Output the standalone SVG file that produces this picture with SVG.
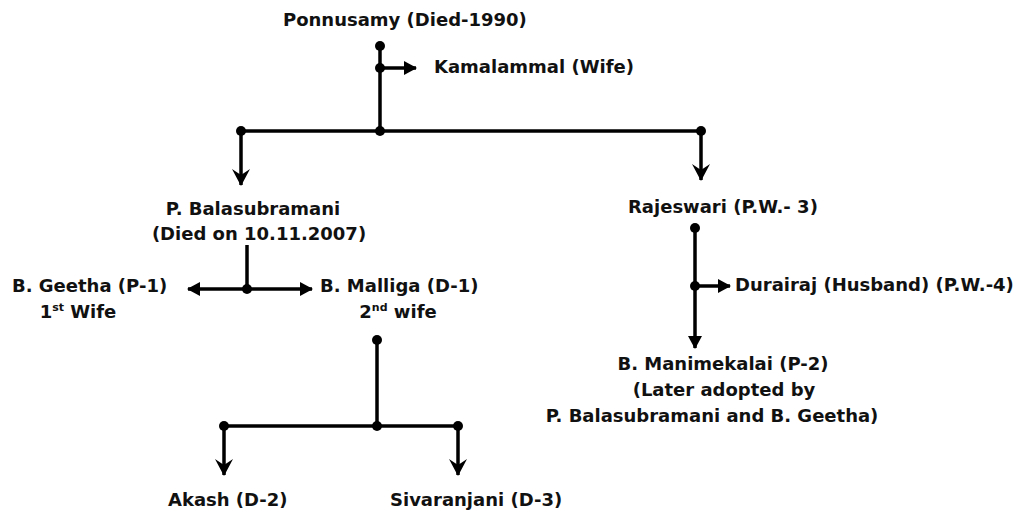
<svg xmlns="http://www.w3.org/2000/svg" width="1026" height="519" viewBox="0 0 1026 519">
<style>
text{font-family:"DejaVu Sans","Verdana",sans-serif;font-weight:bold;font-size:18px;fill:#111}
.m{text-anchor:middle}
.ln{stroke:#000;stroke-width:3.5;fill:none}
.dot{fill:#000}
sup{font-size:11px}
</style>
<defs>
<marker id="tri" markerUnits="userSpaceOnUse" markerWidth="16" markerHeight="16" refX="12" refY="7" orient="auto">
<path d="M0,0 L13,7 L0,14 Z" fill="#000"/>
</marker>
<marker id="stl" markerUnits="userSpaceOnUse" markerWidth="22" markerHeight="22" refX="16" refY="10" orient="auto">
<path d="M0,1 L17,10 L0,19 L6,10 Z" fill="#000"/>
</marker>
</defs>
<rect width="1026" height="519" fill="#fff"/>
<g id="connectors">
<line class="ln" x1="380" y1="46" x2="380" y2="131"/>
<line class="ln" x1="380" y1="68" x2="416" y2="68" marker-end="url(#tri)"/>
<line class="ln" x1="241" y1="131" x2="701" y2="131"/>
<line class="ln" x1="241" y1="131" x2="241" y2="185" marker-end="url(#stl)"/>
<line class="ln" x1="701" y1="131" x2="701" y2="180" marker-end="url(#stl)"/>
<line class="ln" x1="247" y1="245" x2="247" y2="289"/>
<line class="ln" x1="247" y1="289" x2="188" y2="289" marker-end="url(#tri)"/>
<line class="ln" x1="247" y1="289" x2="312" y2="289" marker-end="url(#tri)"/>
<line class="ln" x1="377" y1="340" x2="377" y2="426"/>
<line class="ln" x1="224" y1="426" x2="458" y2="426"/>
<line class="ln" x1="224" y1="426" x2="224" y2="475" marker-end="url(#stl)"/>
<line class="ln" x1="458" y1="426" x2="458" y2="475" marker-end="url(#stl)"/>
<line class="ln" x1="695" y1="228" x2="695" y2="348" marker-end="url(#tri)"/>
<line class="ln" x1="695" y1="286" x2="730" y2="286" marker-end="url(#tri)"/>
<circle class="dot" cx="380" cy="46" r="5"/>
<circle class="dot" cx="380" cy="68" r="5"/>
<circle class="dot" cx="380" cy="131" r="5"/>
<circle class="dot" cx="241" cy="131" r="5"/>
<circle class="dot" cx="701" cy="131" r="5"/>
<circle class="dot" cx="247" cy="289" r="5"/>
<circle class="dot" cx="377" cy="340" r="5"/>
<circle class="dot" cx="377" cy="426" r="5"/>
<circle class="dot" cx="224" cy="426" r="5"/>
<circle class="dot" cx="458" cy="426" r="5"/>
<circle class="dot" cx="695" cy="228" r="5"/>
<circle class="dot" cx="695" cy="286" r="5"/>
</g>
<g id="ponnusamy"><text x="283" y="26">Ponnusamy (Died-1990)</text></g>
<g id="kamalammal"><text x="434" y="73">Kamalammal (Wife)</text></g>
<g id="balasubramani"><text class="m" x="253" y="215">P. Balasubramani</text><text class="m" x="259" y="240">(Died on 10.11.2007)</text></g>
<g id="rajeswari"><text x="628" y="213">Rajeswari (P.W.- 3)</text></g>
<g id="geetha"><text x="12" y="292">B. Geetha (P-1)</text><text class="m" x="78" y="318">1<tspan font-size="11" dy="-7">st</tspan><tspan dy="7"> Wife</tspan></text></g>
<g id="malliga"><text x="320" y="292">B. Malliga (D-1)</text><text class="m" x="398" y="318">2<tspan font-size="11" dy="-7">nd</tspan><tspan dy="7"> wife</tspan></text></g>
<g id="durairaj"><text x="735" y="291">Durairaj (Husband) (P.W.-4)</text></g>
<g id="manimekalai"><text class="m" x="723" y="370">B. Manimekalai (P-2)</text><text class="m" x="724" y="396">(Later adopted by</text><text class="m" x="712" y="422">P. Balasubramani and B. Geetha)</text></g>
<g id="akash"><text x="168" y="506">Akash (D-2)</text></g>
<g id="sivaranjani"><text x="390" y="506">Sivaranjani (D-3)</text></g>
</svg>
